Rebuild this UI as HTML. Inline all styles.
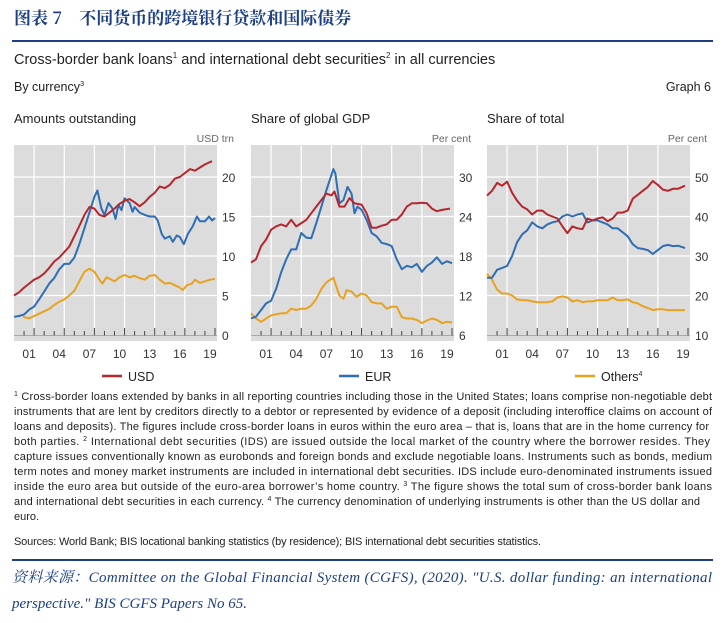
<!DOCTYPE html>
<html><head><meta charset="utf-8"><style>
html,body{margin:0;padding:0;background:#fff;}
svg{display:block;font-family:"Liberation Sans","Noto Sans CJK SC",sans-serif;}
</style></head><body>
<svg id="c" width="725" height="623" viewBox="0 0 725 623">
<text x="14" y="24" font-size="17" font-weight="bold" fill="#1c3f86" font-family="'Noto Serif CJK SC','Noto Sans CJK SC',serif">图表 7　不同货币的跨境银行贷款和国际债券</text>
<rect x="12" y="40" width="701" height="2" fill="#1c3f86"/>
<text x="14" y="64" font-size="14.5" fill="#222">Cross-border bank loans<tspan font-size="8" dy="-6">1</tspan><tspan dy="6"> and international debt securities</tspan><tspan font-size="8" dy="-6">2</tspan><tspan dy="6"> in all currencies</tspan></text>
<text x="14" y="91" font-size="12.5" fill="#222">By currency<tspan font-size="7.5" dy="-5">3</tspan></text>
<text x="711" y="91" font-size="12.5" fill="#222" text-anchor="end">Graph 6</text>
<g id="panels"></g>
<g font-size="11" fill="#222">
<text x="14" y="400" textLength="698"><tspan font-size="7" dy="-4">1</tspan><tspan dy="4">  Cross-border loans extended by banks in all reporting countries including those in the United States; loans comprise non-negotiable debt</tspan></text>
<text x="14" y="415" textLength="698">instruments that are lent by creditors directly to a debtor or represented by evidence of a deposit (including interoffice claims on account of</text>
<text x="14" y="430" textLength="695">loans and deposits). The figures include cross-border loans in euros within the euro area – that is, loans that are in the home currency for</text>
<text x="14" y="445" textLength="696">both parties.  <tspan font-size="7" dy="-4">2</tspan><tspan dy="4">  International debt securities (IDS) are issued outside the local market of the country where the borrower resides. They</tspan></text>
<text x="14" y="460" textLength="698">capture issues conventionally known as eurobonds and foreign bonds and exclude negotiable loans. Instruments such as bonds, medium</text>
<text x="14" y="475" textLength="698">term notes and money market instruments are included in international debt securities. IDS include euro-denominated instruments issued</text>
<text x="14" y="490" textLength="698">inside the euro area but outside of the euro-area borrower’s home country.  <tspan font-size="7" dy="-4">3</tspan><tspan dy="4">  The figure shows the total sum of cross-border bank loans</tspan></text>
<text x="14" y="505" textLength="686">and international debt securities in each currency.  <tspan font-size="7" dy="-4">4</tspan><tspan dy="4">  The currency denomination of underlying instruments is other than the US dollar and</tspan></text>
<text x="14" y="520">euro.</text>
<text x="14" y="545" textLength="527">Sources: World Bank; BIS locational banking statistics (by residence); BIS international debt securities statistics.</text>
</g>
<rect x="12" y="559" width="701" height="2" fill="#1c3f86"/>
<text x="12" y="582" font-size="15" font-style="italic" fill="#1c3f86" font-family="'Liberation Serif','Noto Serif CJK SC',serif" textLength="700">资料来源：Committee on the Global Financial System (CGFS), (2020). "U.S. dollar funding: an international</text>
<text x="12" y="608" font-size="15" font-style="italic" fill="#1c3f86" font-family="'Liberation Serif',serif">perspective." BIS CGFS Papers No 65.</text>
</svg>
<script>
// Panel 1: Amounts outstanding (USD trn)
const p1UsdT=[2000,2000.5,2001,2001.5,2002,2002.5,2003,2003.5,2004,2004.5,2005,2005.5,2006,2006.5,2007,2007.5,2008,2008.5,2009,2009.5,2010,2010.5,2011,2011.5,2012,2012.5,2013,2013.5,2014,2014.5,2015,2015.5,2016,2016.5,2017,2017.5,2018,2018.5,2019,2019.7];
const p1UsdV=[5.0,5.4,6.0,6.5,7.0,7.3,7.8,8.5,9.3,9.8,10.5,11.2,12.5,13.8,15.2,16.2,16.0,15.2,15.0,15.5,16.0,16.6,17.0,17.2,16.8,16.3,16.8,17.5,18.0,18.8,18.6,19.0,19.8,20.0,20.5,21.0,20.8,21.2,21.6,22.0];
const p1EurT=[2000,2000.5,2001,2001.5,2002,2002.5,2003,2003.5,2004,2004.5,2005,2005.5,2006,2006.5,2007,2007.5,2008,2008.3,2008.7,2009,2009.4,2009.8,2010.1,2010.4,2010.7,2011,2011.5,2011.8,2012,2012.5,2013,2013.5,2014,2014.3,2014.7,2015,2015.5,2015.8,2016.2,2016.5,2016.9,2017.3,2017.8,2018.2,2018.5,2019,2019.4,2019.7,2020];
const p1EurV=[2.3,2.4,2.6,3.2,3.6,4.5,5.5,6.5,7.2,8.3,9.0,9.0,9.8,11.5,13.5,15.5,17.5,18.3,16.0,15.2,16.7,16.0,14.7,16.5,15.8,17.3,16.7,15.6,16.2,15.5,15.2,15.0,15.0,14.5,12.8,12.2,12.5,11.8,12.6,12.4,11.5,12.8,13.8,15.0,14.4,14.4,15.0,14.5,14.8];
const p1OthT=[2000.9,2001.5,2002,2002.5,2003,2003.5,2004,2004.5,2005,2005.5,2006,2006.5,2007,2007.5,2008,2008.5,2008.8,2009.2,2009.7,2010,2010.5,2011,2011.5,2012,2012.5,2013,2013.5,2014,2014.5,2015,2015.5,2016,2016.5,2016.8,2017.2,2017.7,2018,2018.5,2019,2019.5,2020];
const p1OthV=[2.3,2.1,2.4,2.7,3.0,3.3,3.8,4.2,4.5,5.0,5.6,6.8,8.0,8.4,8.0,7.0,6.5,7.3,7.0,6.8,7.3,7.6,7.3,7.5,7.2,7.0,7.5,7.6,7.0,6.5,6.6,6.3,6.0,5.7,6.3,6.5,7.0,6.6,6.8,7.0,7.1];
// Panel 2: Share of global GDP (per cent)
const p2UsdT=[2000,2000.5,2001,2001.5,2002,2002.5,2003,2003.5,2004,2004.5,2005,2005.5,2006,2006.5,2007,2007.5,2008,2008.3,2008.8,2009.3,2009.8,2010.3,2011,2011.5,2012,2012.5,2013,2013.5,2014,2014.5,2015,2015.5,2016,2016.5,2017,2017.5,2018,2018.5,2019,2019.8];
const p2UsdV=[17.0,17.5,19.5,20.5,22.0,22.5,22.8,22.5,23.5,22.5,23.0,23.5,24.5,25.5,26.5,27.5,27.2,27.8,25.5,25.5,26.8,26.0,25.8,24.5,22.3,22.3,22.6,22.8,23.5,23.5,24.3,25.5,26.0,26.0,26.1,26.0,25.2,24.8,25.0,25.2];
const p2EurT=[2000,2000.5,2001,2001.5,2002,2002.5,2003,2003.5,2004,2004.5,2005,2005.5,2006,2006.5,2007,2007.5,2008.2,2008.4,2008.8,2009.2,2009.6,2010,2010.3,2010.6,2011,2011.5,2012,2012.5,2013,2013.5,2014,2014.5,2015,2015.5,2016,2016.5,2017,2017.5,2018,2018.5,2019,2019.5,2020];
const p2EurV=[8.5,8.8,9.8,10.8,11.2,13.0,15.5,17.5,19.0,19.0,21.5,20.8,20.7,23.0,25.5,28.0,31.2,30.5,26.0,26.5,28.5,27.5,24.5,25.5,25.0,23.5,21.5,21.0,20.0,19.8,19.5,17.5,16.0,16.5,16.3,16.8,15.6,16.5,17.0,17.8,16.8,17.2,16.9];
const p2OthT=[2000,2000.5,2001,2001.5,2002,2003,2003.5,2004,2004.5,2005,2005.5,2006,2006.5,2007,2007.5,2008.2,2008.8,2009.2,2009.5,2010,2010.5,2011,2011.5,2012,2012.5,2013,2013.5,2014,2014.5,2015,2015.5,2016,2016.5,2017,2017.5,2018,2018.5,2019,2019.5,2020];
const p2OthV=[9.3,8.5,8.0,8.5,9.0,9.3,9.3,10.0,9.8,10.0,10.0,10.5,11.5,13.0,14.0,14.7,12.0,11.5,12.8,12.6,11.8,12.3,12.0,11.0,10.8,10.8,10.0,10.3,10.3,8.7,8.5,8.5,8.3,7.8,8.2,8.5,8.3,7.8,8.0,7.9];
// Panel 3: Share of total (per cent)
const p3T=[2000,2000.5,2001,2001.5,2002,2002.5,2003,2003.5,2004,2004.5,2005,2005.5,2006,2006.5,2007,2007.5,2008,2008.5,2009,2009.5,2010,2010.5,2011,2011.5,2012,2012.5,2013,2013.5,2014,2014.5,2015,2015.5,2016,2016.5,2017,2017.5,2018,2018.5,2019,2019.7];
const p3UsdV=[45.3,46.5,48.5,47.8,48.8,46.0,44.0,42.5,41.8,40.5,41.5,41.5,40.5,40.0,39.5,37.5,35.8,37.5,37.0,36.8,39.5,39.0,39.5,39.8,38.8,39.5,41.0,41.0,41.5,44.5,45.5,46.5,47.5,49.0,48.0,46.8,46.5,47.0,47.0,47.8];
const p3EurV=[24.5,24.5,26.5,27.0,27.5,30.0,33.5,35.5,36.5,38.5,37.5,37.0,38.0,38.5,38.8,40.0,40.5,40.0,40.5,40.8,38.5,39.0,39.0,38.5,38.0,37.0,37.0,36.0,35.0,33.0,32.0,31.8,31.5,30.5,31.5,32.5,32.8,32.5,32.6,32.0];
const p3OthV=[25.5,24.0,21.5,20.5,20.5,20.0,19.0,18.8,18.8,18.5,18.3,18.3,18.3,18.5,19.5,19.8,19.5,18.5,18.8,18.3,18.5,18.5,18.8,18.8,18.8,19.5,18.8,18.8,19.0,18.3,18.0,17.3,16.8,16.3,16.5,16.5,16.3,16.3,16.3,16.3];
const p1Ticks=[0,5,10,15,20], p2Ticks=[6,12,18,24,30], p3Ticks=[10,20,30,40,50];
const yearLabels=["01","04","07","10","13","16","19"];

const NS="http://www.w3.org/2000/svg";
const root=document.getElementById('panels');
function mk(tag,attrs,parent){const e=document.createElementNS(NS,tag);for(const k in attrs)e.setAttribute(k,attrs[k]);(parent||root).appendChild(e);return e;}
const RED="#b5262e",BLUE="#2f6db5",ORG="#e8a21f";
const panels=[
 {x0:14,title:"Amounts outstanding",unit:"USD trn",ticks:p1Ticks,series:[[p1OthT,p1OthV,ORG],[p1EurT,p1EurV,BLUE],[p1UsdT,p1UsdV,RED]],legend:"USD",lc:RED,name:"amounts-outstanding"},
 {x0:251,title:"Share of global GDP",unit:"Per cent",ticks:p2Ticks,series:[[p2OthT,p2OthV,ORG],[p2EurT,p2EurV,BLUE],[p2UsdT,p2UsdV,RED]],legend:"EUR",lc:BLUE,name:"share-of-gdp"},
 {x0:487,title:"Share of total",unit:"Per cent",ticks:p3Ticks,series:[[p3T,p3OthV,ORG],[p3T,p3EurV,BLUE],[p3T,p3UsdV,RED]],legend:"Others",lc:ORG,name:"share-of-total",sup:"4"}
];
panels.forEach(p=>{
 const g=mk('g',{});
 
 
 const xs=t=>p.x0+(t-2000)*10.05;
 const lo=p.ticks[0],hi=p.ticks[p.ticks.length-1];
 const ys=v=>335-(v-lo)/(hi-lo)*158;
 const pt=mk('text',{x:p.x0,y:123,'font-size':13,fill:'#222'},g);pt.textContent=p.title;
 
 
 const ut=mk('text',{x:p.x0+220,y:142,'font-size':10.5,fill:'#666','text-anchor':'end'},g);ut.textContent=p.unit;
 
 
 const bg=mk('rect',{x:p.x0,y:145,width:203,height:196,fill:'#dcdcdc'},g);
 
 
 p.ticks.forEach(v=>{
  if(v!==lo) mk('line',{x1:p.x0,x2:p.x0+203,y1:ys(v),y2:ys(v),stroke:'#fff','stroke-width':1.2},g);
  const tl=mk('text',{x:p.x0+208,y:ys(v)+5,'font-size':12,fill:'#333'},g);tl.textContent=v;
  
  
 });
 for(let yr=2001;yr<=2020;yr++){
  const major=(yr-2002)%3===0;
  const x=xs(yr);
  if(major&&yr<2020) mk('line',{x1:x,x2:x,y1:145,y2:335,stroke:'#fff','stroke-width':1.2},g);
  mk('line',{x1:x,x2:x,y1:major?328:331,y2:336,stroke:'#444','stroke-width':1},g);
 }
 mk('line',{x1:p.x0,x2:p.x0+203,y1:335.5,y2:335.5,stroke:'#999','stroke-width':0.8},g);
 yearLabels.forEach((l,i)=>{const t=mk('text',{x:xs(2001.5+3*i),y:358,'font-size':12,fill:'#333','text-anchor':'middle'},g);t.textContent=l;
  
  });
 p.series.forEach(s=>{
  const d=s[0].map((t,i)=>(i?'L':'M')+xs(t).toFixed(1)+','+ys(s[1][i]).toFixed(1)).join('');
  const pa=mk('path',{d:d,fill:'none',stroke:s[2],'stroke-width':2,'stroke-linejoin':'round'},g);
  
  
 });
 const lx=p.x0+88;
 mk('line',{x1:lx,x2:lx+20,y1:376,y2:376,stroke:p.lc,'stroke-width':2.5},g);
 const lt=mk('text',{x:lx+26,y:381,'font-size':12.5,fill:'#222'},g);lt.textContent=p.legend;
 
 
 if(p.sup){const s=mk('tspan',{'font-size':7,dy:-5},lt);s.textContent=p.sup;}
});
</script>
</body></html>
